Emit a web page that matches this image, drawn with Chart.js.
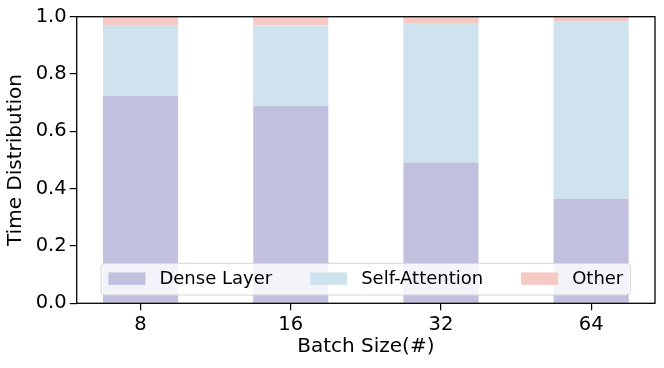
<!DOCTYPE html>
<html>
<head>
<meta charset="utf-8">
<script src="https://cdn.jsdelivr.net/npm/chart.js@4"></script>
<style>
  html, body { margin: 0; padding: 0; background: #fff; }
  #wrap { width: 664px; height: 368px; }
</style>
</head>
<body>
<div id="wrap"><canvas id="myChart" width="664" height="368"></canvas></div>
<script>
// data
let batchSizes = ['8', '16', '32', '64'];
let denseLayer = [0.723, 0.688, 0.491, 0.365];
let selfAttention = [0.245, 0.281, 0.487, 0.6175];
let other = [0.032, 0.031, 0.022, 0.0175];
let yTicks = [0, 0.2, 0.4, 0.6, 0.8, 1.0];

Chart.defaults.font.family = "'DejaVu Sans', sans-serif";
Chart.defaults.color = '#000';

function toPoints(values) {
    return values.map((v, i) => ({ x: i, y: v }));
}

// matplotlib style legend inside the axes, lower center
let insideLegend = {
    id: 'insideLegend',
    afterDatasetsDraw(chart) {
        let c = chart.ctx;
        let area = chart.chartArea;
        let sets = chart.data.datasets;
        c.save();
        c.font = "18px 'DejaVu Sans', sans-serif";
        let handleW = 37, handleH = 12.5, gap = 14, colGap = 38, pad = 7.3;
        let widths = sets.map(s => c.measureText(s.label).width);
        let total = pad * 2;
        widths.forEach((w, i) => { total += handleW + gap + w + (i < widths.length - 1 ? colGap : 0); });
        let h = 31.7;
        let x0 = (area.left + area.right) / 2 - total / 2;
        let y0 = area.bottom - 8.3 - h;
        c.beginPath();
        c.roundRect(x0, y0, total, h, 4);
        c.fillStyle = 'rgba(255,255,255,0.8)';
        c.fill();
        c.strokeStyle = '#d6d6d6';
        c.lineWidth = 1;
        c.stroke();
        let cy = y0 + h / 2 - 0.5;
        let x = x0 + pad;
        sets.forEach((s, i) => {
            c.fillStyle = s.backgroundColor;
            c.fillRect(x, cy - handleH / 2, handleW, handleH);
            x += handleW + gap;
            c.fillStyle = '#000';
            c.textBaseline = 'middle';
            c.fillText(s.label, x, cy + 1);
            x += widths[i] + colGap;
        });
        c.restore();
    },
    afterDraw(chart) {
        let c = chart.ctx;
        let a = chart.chartArea;
        c.save();
        c.strokeStyle = '#000';
        c.lineWidth = 1.3;
        c.strokeRect(a.left, a.top, a.right - a.left, a.bottom - a.top);
        c.restore();
    }
};

let ctx = document.getElementById('myChart').getContext('2d');
let myChart = new Chart(ctx, {
    type: 'bar',
    data: {
        datasets: [
            {
                label: 'Dense Layer',
                data: toPoints(denseLayer),
                backgroundColor: '#c1c0de',
                borderWidth: 0,
                barPercentage: 0.5,
                categoryPercentage: 1.0,
            },
            {
                label: 'Self-Attention',
                data: toPoints(selfAttention),
                backgroundColor: '#cfe3ee',
                borderWidth: 0,
                barPercentage: 0.5,
                categoryPercentage: 1.0,
            },
            {
                label: 'Other',
                data: toPoints(other),
                backgroundColor: '#f6c9c5',
                borderWidth: 0,
                barPercentage: 0.5,
                categoryPercentage: 1.0,
            }]
    },
    options: {
        responsive: false,
        animation: false,
        layout: {
            padding: { left: 0, right: 9, top: 16.7, bottom: 0 }
        },
        plugins: {
            legend: { display: false },
            tooltip: { enabled: false }
        },
        scales: {
            x: {
                type: 'linear',
                stacked: true,
                offset: false,
                min: -0.425,
                max: 3.425,
                afterBuildTicks: (axis) => {
                    axis.ticks = batchSizes.map((b, i) => ({ value: i }));
                },
                afterFit: (axis) => { axis.height = 64.7; },
                grid: {
                    offset: false,
                    drawOnChartArea: false,
                    drawTicks: true,
                    tickLength: 7,
                    color: '#000',
                    lineWidth: 1.2
                },
                border: { display: false },
                ticks: {
                    padding: 3,
                    maxRotation: 0,
                    font: { size: 19.5 },
                    callback: (v) => batchSizes[v]
                },
                title: {
                    display: true,
                    text: 'Batch Size(#)',
                    font: { size: 20 },
                    padding: { top: 0, bottom: 9 }
                }
            },
            y: {
                stacked: true,
                min: 0,
                max: 1,
                afterBuildTicks: (axis) => {
                    axis.ticks = yTicks.map(v => ({ value: v }));
                },
                afterFit: (axis) => { axis.width = 76.7; },
                grid: {
                    drawOnChartArea: false,
                    drawTicks: true,
                    tickLength: 7,
                    color: '#000',
                    lineWidth: 1.2
                },
                border: { display: false },
                ticks: {
                    padding: 3,
                    font: { size: 19.5 },
                    callback: (v) => v.toFixed(1)
                },
                title: {
                    display: true,
                    text: 'Time Distribution',
                    font: { size: 20 },
                    padding: { top: 4, bottom: 4 }
                }
            }
        }
    },
    plugins: [insideLegend]
});
</script>
</body>
</html>
